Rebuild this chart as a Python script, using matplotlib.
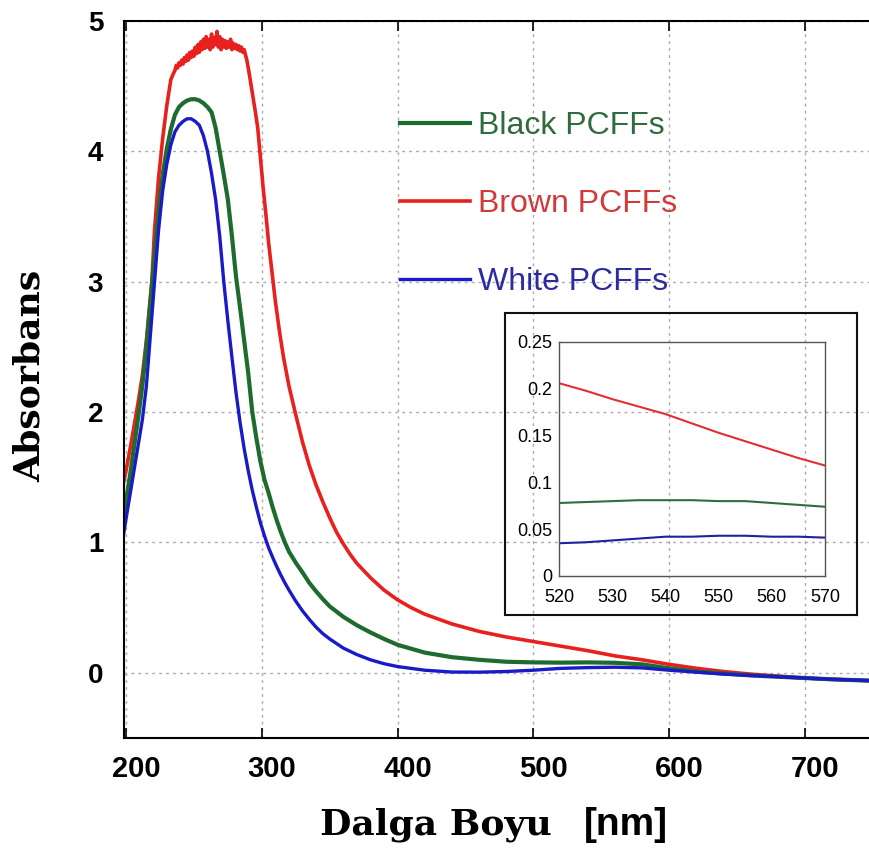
import numpy as np
import matplotlib
matplotlib.use("Agg")
import matplotlib.pyplot as plt
import matplotlib.transforms as mtransforms

# main spectra (wavelength nm, absorbance)
wl_black = [198, 200, 203, 206, 209, 212, 215, 218, 221, 224, 227, 230, 233, 236, 239,
            242, 245, 248, 251, 254, 257, 260, 263, 266, 269, 272, 275, 278, 281, 284,
            287, 290, 293, 296, 299, 302, 305, 308, 311, 314, 317, 320, 325, 330, 335,
            340, 345, 350, 360, 370, 380, 390, 400, 420, 440, 460, 480, 500, 520, 540,
            560, 580, 600, 620, 640, 660, 680, 700, 720, 748]
abs_black = [1.2, 1.32, 1.52, 1.74, 1.96, 2.2, 2.5, 2.85, 3.2, 3.55, 3.82, 4.02, 4.17, 4.28, 4.34,
             4.37, 4.39, 4.4, 4.4, 4.39, 4.37, 4.34, 4.3, 4.18, 4.0, 3.82, 3.63, 3.35, 3.04, 2.8,
             2.55, 2.3, 2.0, 1.8, 1.62, 1.48, 1.38, 1.27, 1.17, 1.08, 1.0, 0.93, 0.845, 0.77, 0.69,
             0.625, 0.565, 0.51, 0.43, 0.365, 0.31, 0.26, 0.215, 0.155, 0.12, 0.1, 0.085, 0.08, 0.078, 0.08,
             0.077, 0.065, 0.035, 0.01, -0.005, -0.02, -0.03, -0.04, -0.05, -0.06]

wl_white = wl_black
abs_white = [1.05, 1.18, 1.37, 1.56, 1.75, 1.94, 2.2, 2.6, 3.0, 3.4, 3.7, 3.9, 4.05, 4.15, 4.2,
             4.23, 4.25, 4.25, 4.23, 4.2, 4.12, 4.0, 3.83, 3.63, 3.35, 3.0, 2.7, 2.42, 2.15, 1.92,
             1.72, 1.55, 1.4, 1.27, 1.15, 1.05, 0.96, 0.885, 0.815, 0.75, 0.69, 0.635, 0.55, 0.475, 0.41,
             0.35, 0.3, 0.26, 0.19, 0.14, 0.1, 0.07, 0.048, 0.02, 0.006, 0.005, 0.01, 0.02, 0.034, 0.04,
             0.043, 0.038, 0.02, 0.005, -0.01, -0.02, -0.03, -0.04, -0.05, -0.06]

wl_brown = [198, 200, 203, 206, 209, 212, 215, 217, 219, 221, 224, 227, 230, 233, 235,
            236, 237, 238, 239, 240, 241, 242, 243, 244, 245, 246, 247, 248, 249, 250,
            251, 252, 253, 254, 255, 256, 257, 258, 259, 260, 261, 262, 263, 264, 265,
            266, 267, 268, 269, 270, 271, 272, 273, 274, 275, 276, 277, 278, 279, 280,
            281, 282, 283, 284, 285, 286, 287, 289, 291, 293, 295, 297, 299, 301, 303,
            305, 307, 310, 313, 316, 320, 325, 330, 335, 340, 345, 350, 355, 360, 365,
            370, 380, 390, 400, 410, 420, 440, 460, 480, 500, 520, 540, 560, 580, 600,
            620, 640, 660, 680, 700, 720, 748]
abs_brown = [1.45, 1.55, 1.72, 1.9, 2.08, 2.28, 2.55, 2.78, 3.0, 3.4, 3.8, 4.1, 4.35, 4.55, 4.6,
             4.62, 4.66, 4.64, 4.68, 4.66, 4.7, 4.67, 4.72, 4.69, 4.74, 4.7, 4.76, 4.72, 4.77, 4.73,
             4.8, 4.75, 4.82, 4.76, 4.84, 4.78, 4.86, 4.79, 4.88, 4.8, 4.86, 4.78, 4.9, 4.8, 4.87,
             4.82, 4.92, 4.8, 4.88, 4.78, 4.86, 4.8, 4.85, 4.79, 4.84, 4.8, 4.86, 4.78, 4.83, 4.79,
             4.82, 4.78, 4.81, 4.77, 4.8, 4.76, 4.78, 4.7, 4.58, 4.45, 4.32, 4.18, 3.95, 3.72, 3.52,
             3.3, 3.12, 2.85, 2.62, 2.42, 2.2, 1.98, 1.77, 1.59, 1.44, 1.31, 1.19, 1.08, 0.99, 0.91,
             0.84, 0.73, 0.635, 0.56, 0.5, 0.45, 0.375, 0.318, 0.275, 0.24, 0.205, 0.17, 0.13, 0.1, 0.065,
             0.035, 0.01, -0.01, -0.025, -0.04, -0.05, -0.06]

# inset (520-570 nm)
wl_inset = [520, 525, 530, 535, 540, 545, 550, 555, 560, 565, 570]
inset_brown = [0.206, 0.198, 0.189, 0.181, 0.173, 0.163, 0.153, 0.144, 0.135, 0.126, 0.118]
inset_black = [0.078, 0.079, 0.080, 0.081, 0.081, 0.081, 0.080, 0.080, 0.078, 0.076, 0.074]
inset_white = [0.035, 0.036, 0.038, 0.040, 0.042, 0.042, 0.043, 0.043, 0.042, 0.042, 0.041]

labels = ['Black PCFFs', 'Brown PCFFs', 'White PCFFs']
line_colors = ['#1e6b2e', '#e8201e', '#1a1ac8']
text_colors = ['#2f6b3d', '#d23a3a', '#2c2ca0']

W, H = 870, 852
fig = plt.figure(figsize=(W / 100, H / 100), dpi=100)
ax = fig.add_axes([124 / W, 1 - 738 / H, (W - 124) / W, 717 / H])

l_brown, = ax.plot(wl_brown, abs_brown, color=line_colors[1], lw=2.6, label=labels[1])
l_black, = ax.plot(wl_black, abs_black, color=line_colors[0], lw=3.0, label=labels[0])
l_white, = ax.plot(wl_white, abs_white, color=line_colors[2], lw=2.4, label=labels[2])

ax.set_xlim(198.5, 748)
ax.set_ylim(-0.5, 5)
ax.set_xticks([200, 300, 400, 500, 600, 700])
ax.set_yticks([0, 1, 2, 3, 4, 5])
ax.grid(True, color='#aaaaaa', lw=1, linestyle=(0, (2, 3)))
ax.spines['right'].set_visible(False)
for s in ['left', 'bottom', 'top']:
    ax.spines[s].set_linewidth(1.5)
ax.tick_params(axis='x', direction='in', top=True, length=7, width=1.2, pad=12,
               labelsize=21)
ax.tick_params(axis='y', direction='in', length=0, pad=15, labelsize=20)
for lab in ax.get_xticklabels() + ax.get_yticklabels():
    lab.set_family('Liberation Sans')
    lab.set_weight('bold')
shift = mtransforms.ScaledTranslation(0.1, 0, fig.dpi_scale_trans)
for lab in ax.get_xticklabels():
    lab.set_transform(lab.get_transform() + shift)

leg = ax.legend(handles=[l_black, l_brown, l_white], loc='upper left',
                bbox_to_anchor=(400 / W, 1 - 111 / H), bbox_transform=fig.transFigure,
                frameon=False, borderpad=0, borderaxespad=0, handlelength=2.2,
                handletextpad=0.25, labelspacing=1.5,
                prop={'family': 'Liberation Sans', 'size': 23})
for t, c in zip(leg.get_texts(), text_colors):
    t.set_color(c)

fig.text(30 / W, 1 - 376 / H, 'Absorbans', rotation=90, ha='center', va='center',
         family='DejaVu Serif', weight='bold', fontsize=26)
fig.text(320 / W, 1 - 835 / H, 'Dalga Boyu', ha='left', va='baseline',
         family='DejaVu Serif', weight='bold', fontsize=26)
fig.text(584 / W, 1 - 835 / H, '[nm]', ha='left', va='baseline',
         family='Liberation Sans', weight='bold', fontsize=28)

# inset frame and axes
frame = fig.add_axes([505 / W, 1 - 615 / H, 352 / W, 302 / H])
frame.set_facecolor('none')
frame.set_xticks([])
frame.set_yticks([])
for s in frame.spines.values():
    s.set_linewidth(1.5)
    s.set_color('#111111')

ins = fig.add_axes([559 / W, 1 - 576 / H, 266 / W, 234 / H])
ins.set_facecolor('none')
ins.plot(wl_inset, inset_brown, color='#e03030', lw=1.5)
ins.plot(wl_inset, inset_black, color='#2d6e3e', lw=1.5)
ins.plot(wl_inset, inset_white, color='#2020a0', lw=1.5)
ins.set_xlim(520, 570)
ins.set_ylim(0, 0.25)
ins.set_xticks([520, 530, 540, 550, 560, 570])
ins.set_yticks([0, 0.05, 0.1, 0.15, 0.2, 0.25])
ins.set_yticklabels(['0', '0.05', '0.1', '0.15', '0.2', '0.25'])
for s in ins.spines.values():
    s.set_linewidth(1.0)
    s.set_color('#555555')
ins.tick_params(direction='in', length=0, labelsize=13, pad=5)
ins.tick_params(axis='x', pad=9)
for lab in ins.get_xticklabels() + ins.get_yticklabels():
    lab.set_family('Liberation Sans')

fig.savefig('out.png', dpi=100)
